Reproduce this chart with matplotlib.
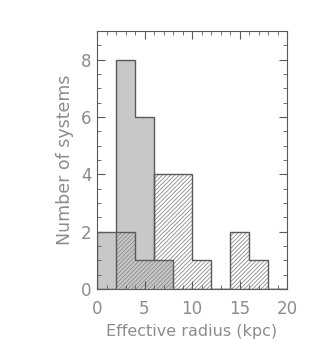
import numpy
from matplotlib import pyplot
from matplotlib.ticker import MultipleLocator

# bin edges (kpc) and counts
edges = numpy.arange(0, 22, 2)
gray_counts = [2, 8, 6, 1, 0, 0, 0, 0, 0, 0]
hatch_counts = [0, 2, 1, 4, 4, 1, 0, 2, 1, 0]

edge_col = "#5a5a5a"
text_col = "#8c8c8c"
pyplot.rcParams["hatch.linewidth"] = 0.6

fig = pyplot.figure(figsize=(3.15, 3.51), dpi=100)
axes = fig.add_axes([97/315, 1 - 289/351, 190/315, 258/351])

axes.stairs(gray_counts, edges, fill=True, facecolor="#c8c8c8",
            edgecolor="none", linewidth=0)
axes.stairs(hatch_counts, edges, fill=True, facecolor="none",
            edgecolor="#8a8a8a", hatch="////////", linewidth=0)
axes.stairs(gray_counts, edges, baseline=0, color=edge_col, linewidth=1.0)
axes.stairs(hatch_counts, edges, baseline=0, color=edge_col, linewidth=1.0)

axes.set_xlim(0, 20)
axes.set_ylim(0, 9)
axes.xaxis.set_major_locator(MultipleLocator(5))
axes.xaxis.set_minor_locator(MultipleLocator(1))
axes.yaxis.set_major_locator(MultipleLocator(2))
axes.yaxis.set_minor_locator(MultipleLocator(0.5))
axes.tick_params(which="both", direction="in", top=True, right=True,
                 color=edge_col, labelcolor=text_col, labelsize=12)
axes.tick_params(axis="x", pad=8)
axes.tick_params(axis="y", pad=4)
axes.tick_params(which="major", length=6)
axes.tick_params(which="minor", length=3)
for s in axes.spines.values():
    s.set_color(edge_col)

axes.set_xlabel("Effective radius (kpc)", color=text_col, fontsize=11.5,
                labelpad=4)
axes.set_ylabel("Number of systems", color=text_col, fontsize=12.5,
                labelpad=5)

fig.savefig("out.png", dpi=100)
